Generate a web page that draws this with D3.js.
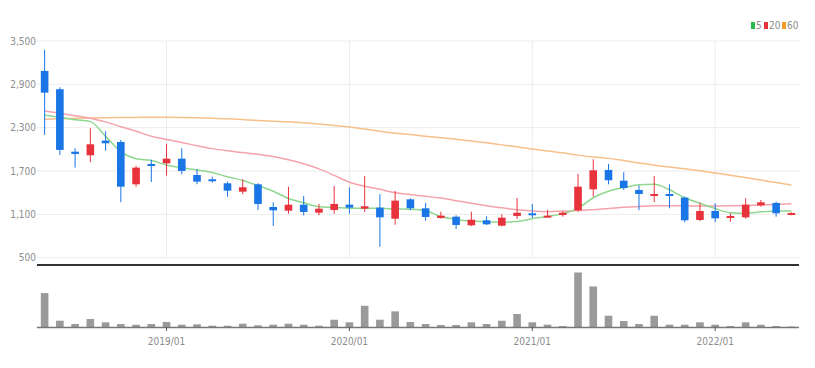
<!DOCTYPE html>
<html><head><meta charset="utf-8">
<script src="https://cdn.jsdelivr.net/npm/d3@7/dist/d3.min.js"></script>
<style>
html,body{margin:0;padding:0;background:#fff;}
svg{display:block;font-family:"Liberation Sans Narrow","DejaVu Sans Condensed","Roboto",sans-serif;}
</style></head>
<body><svg id="c" width="815" height="368"></svg>
<script>
const months = ["2018/05","2018/06","2018/07","2018/08","2018/09","2018/10","2018/11","2018/12",
"2019/01","2019/02","2019/03","2019/04","2019/05","2019/06","2019/07","2019/08","2019/09","2019/10","2019/11","2019/12",
"2020/01","2020/02","2020/03","2020/04","2020/05","2020/06","2020/07","2020/08","2020/09","2020/10","2020/11","2020/12",
"2021/01","2021/02","2021/03","2021/04","2021/05","2021/06","2021/07","2021/08","2021/09","2021/10","2021/11","2021/12",
"2022/01","2022/02","2022/03","2022/04","2022/05","2022/06"];
const openP  = [3086,2832,1968,1918,2121,2102,1516,1798,1807,1871,1645,1586,1530,1414,1516,1202,1151,1234,1123,1161,
1234,1179,1193,1040,1308,1184,1050,1068,948,1018,943,1078,1115,1064,1091,1156,1447,1715,1567,1438,
1355,1382,1332,1022,1147,1050,1059,1225,1258,1091];
const highP  = [3377,2860,2015,2292,2250,2130,1770,1857,2079,2015,1728,1622,1553,1586,1530,1267,1483,1355,1244,1493,
1475,1631,1378,1424,1322,1258,1137,1087,1137,1073,1101,1327,1244,1161,1142,1659,1863,1798,1683,1502,
1631,1516,1345,1262,1253,1115,1322,1299,1276,1128];
const lowP   = [2199,1922,1747,1821,1982,1267,1483,1548,1636,1655,1517,1539,1345,1378,1161,939,1109,1087,1087,1109,
1109,1133,652,957,1156,1012,1040,897,939,953,934,1036,1050,1059,1068,1137,1345,1516,1438,1156,
1271,1184,990,1008,994,999,1040,1207,1068,1087];
const closeP = [2785,1992,1936,2070,2084,1483,1747,1770,1871,1701,1553,1562,1428,1475,1244,1156,1234,1133,1179,1244,
1193,1212,1059,1290,1184,1064,1082,953,1026,962,1054,1123,1087,1082,1123,1483,1710,1572,1465,1382,
1382,1355,1018,1147,1045,1078,1234,1267,1115,1119];
const volume = [3400,630,300,800,470,300,230,300,500,230,270,130,130,330,170,230,330,230,130,730,
470,2130,730,1570,500,300,200,200,470,300,630,1300,470,230,100,5470,4070,1130,600,300,
1130,230,230,470,230,100,470,230,100,50];
const ma5  = [2472,2444,2410,2384,2180,1968,1870,1845,1784,1745,1715,1680,1620,1570,1500,1420,1320,1260,1205,1195,
1184,1184,1184,1175,1170,1150,1070,1030,1008,1000,990,1000,1040,1070,1110,1184,1330,1420,1470,1510,
1516,1440,1330,1253,1180,1123,1115,1135,1147,1147];
const ma20 = [2532,2500,2465,2431,2380,2314,2250,2180,2135,2095,2050,2010,1980,1955,1932,1900,1855,1800,1730,1640,
1545,1490,1447,1400,1375,1350,1325,1290,1253,1220,1190,1165,1145,1137,1145,1152,1165,1180,1198,1210,
1218,1220,1218,1216,1216,1218,1222,1230,1238,1248];
const ma60 = [2417,2425,2430,2435,2438,2440,2442,2444,2444,2442,2438,2432,2424,2412,2400,2390,2382,2368,2350,2330,
2308,2282,2252,2222,2204,2180,2160,2140,2115,2090,2062,2035,2005,1978,1952,1920,1895,1875,1845,1812,
1780,1755,1730,1705,1672,1640,1610,1575,1540,1507];
const yTicks = [500,1100,1700,2300,2900,3500];
const xTickLabels = ["2019/01","2020/01","2021/01","2022/01"];
const legendNames = ["5","20","60"];
const legendColors = ["#2db84d","#e8333b","#f39c2c"];

const UP = "#e8323c", DOWN = "#1a76e6";
const svg = d3.select("#c");
const L = 37, R = 799;
const x = d3.scaleBand().domain(months).range([L, R]).paddingInner(0.5).paddingOuter(0.25);
const y = d3.scaleLinear().domain([500, 3500]).range([257.7, 41]);
const vy = d3.scaleLinear().domain([0, d3.max(volume)]).range([327, 272.5]);
const cx = m => x(m) + x.bandwidth() / 2;

// grid
svg.append("g").selectAll("line").data(yTicks).join("line")
  .attr("x1", L).attr("x2", R + 1).attr("y1", d => y(d)).attr("y2", d => y(d))
  .attr("stroke", "#ececec").attr("stroke-width", 1);
svg.append("g").selectAll("line").data(xTickLabels).join("line")
  .attr("x1", d => cx(d)).attr("x2", d => cx(d)).attr("y1", y(3500)).attr("y2", y(500))
  .attr("stroke", "#ececec").attr("stroke-width", 1);

// y labels
const yAxis = d3.axisLeft(y).tickValues(yTicks).tickFormat(d3.format(",")).tickSize(0).tickPadding(0);
const ga = svg.append("g").attr("transform", `translate(${L - 1},0)`).call(yAxis);
ga.select(".domain").remove();
ga.selectAll("text").attr("fill", "#8c8c8c").attr("font-size", 10)
  .attr("font-family", "Liberation Sans Narrow, DejaVu Sans Condensed, Roboto, sans-serif");

// MA lines
const line = arr => d3.line().x((d, i) => cx(months[i])).y(d => y(d)).curve(d3.curveMonotoneX)(arr);
[[ma60, "#f7bf8a"], [ma20, "#f5a3aa"], [ma5, "#8fd88f"]].forEach(([arr, c]) => {
  svg.append("path").attr("d", line(arr)).attr("fill", "none").attr("stroke", c).attr("stroke-width", 1.5);
});

// candles
const g = svg.append("g");
months.forEach((m, i) => {
  const up = closeP[i] >= openP[i];
  const col = up ? UP : DOWN;
  g.append("line").attr("x1", cx(m)).attr("x2", cx(m))
    .attr("y1", y(highP[i])).attr("y2", y(lowP[i])).attr("stroke", col).attr("stroke-width", 1);
  const top = y(Math.max(openP[i], closeP[i]));
  const bot = y(Math.min(openP[i], closeP[i]));
  g.append("rect").attr("x", x(m)).attr("width", x.bandwidth())
    .attr("y", top).attr("height", Math.max(2, bot - top)).attr("fill", col);
});

// separator
svg.append("line").attr("x1", L).attr("x2", R).attr("y1", 265).attr("y2", 265)
  .attr("stroke", "#333").attr("stroke-width", 2);

// volume bars
svg.append("g").selectAll("rect").data(volume).join("rect")
  .attr("x", (d, i) => x(months[i])).attr("width", x.bandwidth())
  .attr("y", d => vy(d)).attr("height", d => 327 - vy(d)).attr("fill", "#9a9a9a");
svg.append("line").attr("x1", L).attr("x2", R).attr("y1", 327.5).attr("y2", 327.5)
  .attr("stroke", "#777").attr("stroke-width", 1.5);

// x axis
const xa = svg.append("g").attr("transform", "translate(0,327)");
xa.selectAll("line").data(xTickLabels).join("line")
  .attr("x1", d => cx(d)).attr("x2", d => cx(d)).attr("y1", 0).attr("y2", 4).attr("stroke", "#555");
xa.selectAll("text").data(xTickLabels).join("text")
  .attr("x", d => cx(d)).attr("y", 18).attr("text-anchor", "middle")
  .attr("fill", "#8c8c8c").attr("font-size", 10).text(d => d);

// legend
const lg = svg.append("g");
const lx = [751, 764, 782];
legendNames.forEach((n, i) => {
  lg.append("rect").attr("x", lx[i]).attr("y", 22).attr("width", 4).attr("height", 7).attr("fill", legendColors[i]);
  lg.append("text").attr("x", lx[i] + 5).attr("y", 29).attr("fill", "#8c8c8c").attr("font-size", 10).text(n);
});
</script></body></html>
